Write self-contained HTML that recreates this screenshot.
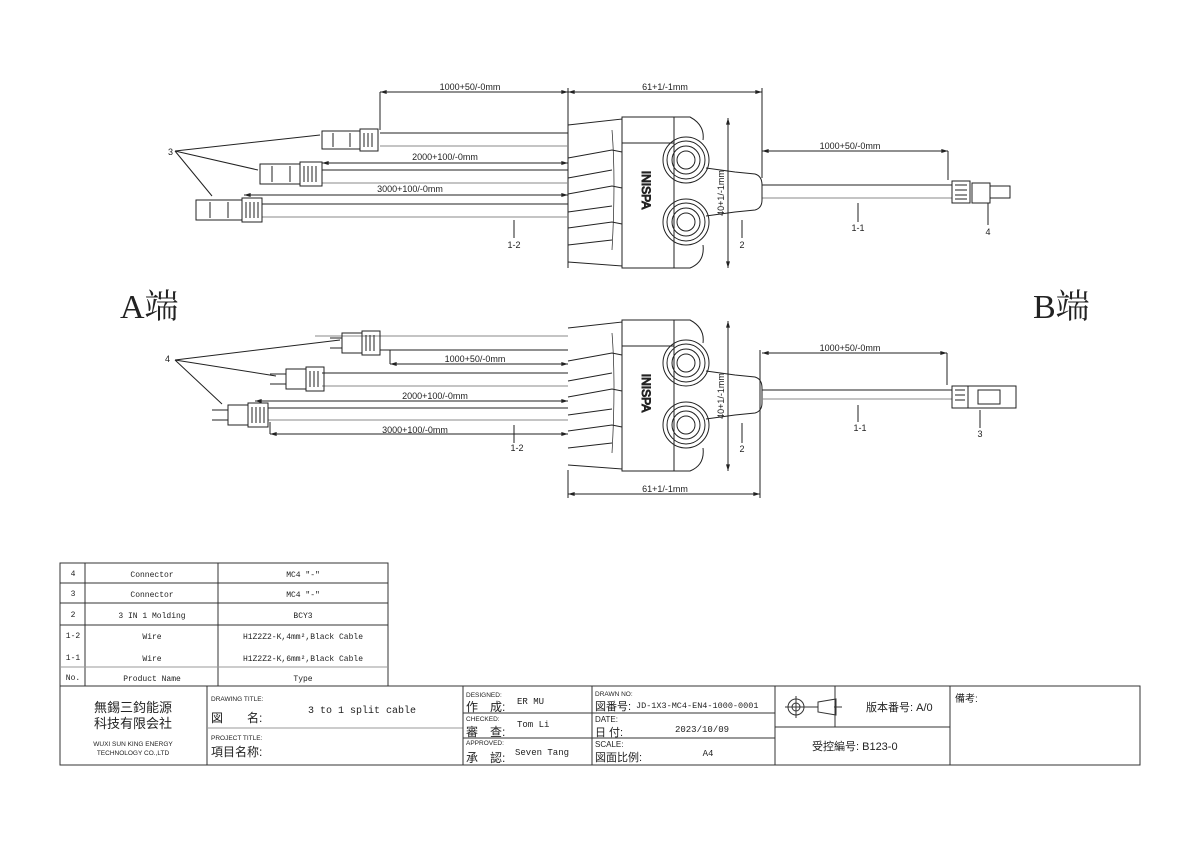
<!DOCTYPE html>
<html><head><meta charset="utf-8"><style>
html,body{margin:0;padding:0;background:#fff;}
svg{display:block}
text{font-family:"Liberation Sans","Noto Sans CJK SC",sans-serif;fill:#222}
.s{font-family:"Liberation Mono","Noto Sans CJK SC",monospace;}
</style></head><body>
<svg width="1200" height="848" viewBox="0 0 1200 848" xmlns="http://www.w3.org/2000/svg">
<defs>
<marker id="a" viewBox="0 0 10 6" refX="10" refY="3" markerWidth="8" markerHeight="4" orient="auto-start-reverse"><path d="M0,0 L10,3 L0,6 z" fill="#222"/></marker>
<g id="hub" fill="none" stroke="#222" stroke-width="1">
  <!-- fan left part -->
  <path d="M568,125 L622,119 L622,266 L568,262"/>
  <path d="M568,158 L612,150 L622,152 M568,178 L612,170 M568,194 L612,186 L622,188 M568,212 L612,206 M568,228 L612,222 L622,224 M568,245 L612,240"/>
  <path d="M612,130 Q616,180 612,250" stroke-width="0.7"/>
  <!-- body -->
  <rect x="622" y="117" width="52" height="151"/>
  <path d="M622,143 L674,143"/>
  <path d="M674,117 L690,117 Q705,125 703,140 M674,268 L690,268 Q705,262 703,245"/>
  <circle cx="686" cy="160" r="23"/><circle cx="686" cy="160" r="19"/><circle cx="686" cy="160" r="14"/><circle cx="686" cy="160" r="9"/>
  <circle cx="686" cy="222" r="23"/><circle cx="686" cy="222" r="19"/><circle cx="686" cy="222" r="14"/><circle cx="686" cy="222" r="9"/>
  <path d="M706,168 L735,172 L755,174 Q762,176 762,185 L762,200 Q762,208 755,210 L735,212 L706,216"/>
  <text x="0" y="0" transform="translate(642,190) rotate(90)" font-size="12" text-anchor="middle" style="fill:#222">INISPA</text>
</g>
</defs>

<!-- ================= TOP DIAGRAM ================= -->
<g stroke="#222" stroke-width="1" fill="none">
  <!-- dims -->
  <line x1="380" y1="92" x2="568" y2="92" marker-start="url(#a)" marker-end="url(#a)"/>
  <line x1="568" y1="92" x2="762" y2="92" marker-start="url(#a)" marker-end="url(#a)"/>
  <line x1="380" y1="92" x2="380" y2="130"/>
  <line x1="568" y1="88" x2="568" y2="268"/>
  <line x1="762" y1="88" x2="762" y2="178"/>
  <line x1="322" y1="163" x2="568" y2="163" marker-start="url(#a)" marker-end="url(#a)"/>
  <line x1="244" y1="195" x2="568" y2="195" marker-start="url(#a)" marker-end="url(#a)"/>
  <line x1="762" y1="151" x2="948" y2="151" marker-start="url(#a)" marker-end="url(#a)"/>
  <line x1="948" y1="151" x2="948" y2="180"/>
  <line x1="728" y1="118" x2="728" y2="268" marker-start="url(#a)" marker-end="url(#a)"/>
  <!-- cables -->
  <line x1="380" y1="133" x2="568" y2="133"/><line x1="380" y1="146" x2="568" y2="146" stroke="#888"/>
  <line x1="322" y1="170" x2="568" y2="170"/><line x1="322" y1="183" x2="568" y2="183" stroke="#888"/>
  <line x1="262" y1="204" x2="568" y2="204"/><line x1="262" y1="217" x2="568" y2="217" stroke="#888"/>
  <line x1="762" y1="185" x2="952" y2="185"/><line x1="762" y1="198" x2="952" y2="198" stroke="#888"/>
  <!-- connectors -->
  <rect x="322" y="131" width="38" height="18"/><rect x="360" y="129" width="18" height="22"/>
  <path d="M364,133v14M368,133v14M372,133v14M333,133v14M350,133v14"/>
  <rect x="260" y="164" width="40" height="20"/><rect x="300" y="162" width="22" height="24"/>
  <path d="M304,166v16M308,166v16M312,166v16M316,166v16M272,166v16M290,166v16"/>
  <rect x="196" y="200" width="46" height="20"/><rect x="242" y="198" width="20" height="24"/>
  <path d="M246,202v16M250,202v16M254,202v16M258,202v16M210,202v16M228,202v16"/>
  <rect x="952" y="181" width="18" height="22"/><path d="M955,185h12M955,190h12M955,195h12M955,199h12"/>
  <rect x="972" y="183" width="18" height="20"/><rect x="990" y="186" width="20" height="12"/>
  <!-- leaders -->
  <path d="M175,151 L320,135 M175,151 L258,170 M175,151 L212,196"/>
  <line x1="514" y1="220" x2="514" y2="238"/>
  <line x1="858" y1="203" x2="858" y2="222"/>
  <line x1="988" y1="203" x2="988" y2="225"/>
  <line x1="742" y1="220" x2="742" y2="238"/>
</g>
<use href="#hub"/>
<g font-size="9">
  <text x="470" y="90" text-anchor="middle">1000+50/-0mm</text>
  <text x="665" y="90" text-anchor="middle">61+1/-1mm</text>
  <text x="445" y="160" text-anchor="middle">2000+100/-0mm</text>
  <text x="410" y="192" text-anchor="middle">3000+100/-0mm</text>
  <text x="850" y="149" text-anchor="middle">1000+50/-0mm</text>
  <text transform="translate(724,193) rotate(-90)" text-anchor="middle">40+1/-1mm</text>
  <text x="168" y="155">3</text>
  <text x="514" y="248" text-anchor="middle">1-2</text>
  <text x="858" y="231" text-anchor="middle">1-1</text>
  <text x="988" y="235" text-anchor="middle">4</text>
  <text x="742" y="248" text-anchor="middle">2</text>
</g>

<!-- A/B labels -->
<text x="120" y="318" font-size="34" style="font-family:'Liberation Serif','Noto Serif CJK SC',serif">A端</text>
<text x="1033" y="318" font-size="34" style="font-family:'Liberation Serif','Noto Serif CJK SC',serif">B端</text>

<!-- ================= BOTTOM DIAGRAM ================= -->
<use href="#hub" transform="translate(0,203)"/>
<g stroke="#222" stroke-width="1" fill="none">
  <line x1="568" y1="470" x2="568" y2="498"/>
  <line x1="760" y1="350" x2="760" y2="498"/>
  <line x1="568" y1="494" x2="760" y2="494" marker-start="url(#a)" marker-end="url(#a)"/>
  <line x1="728" y1="321" x2="728" y2="471" marker-start="url(#a)" marker-end="url(#a)"/>
  <line x1="390" y1="364" x2="568" y2="364" marker-start="url(#a)" marker-end="url(#a)"/>
  <line x1="390" y1="350" x2="390" y2="364"/>
  <line x1="255" y1="401" x2="568" y2="401" marker-start="url(#a)" marker-end="url(#a)"/>
  <line x1="270" y1="434" x2="568" y2="434" marker-start="url(#a)" marker-end="url(#a)"/>
  <line x1="270" y1="422" x2="270" y2="434"/>
  <line x1="762" y1="353" x2="947" y2="353" marker-start="url(#a)" marker-end="url(#a)"/>
  <line x1="947" y1="353" x2="947" y2="385"/>
  <!-- cables -->
  <line x1="315" y1="336" x2="568" y2="336" stroke="#888"/><line x1="380" y1="350" x2="568" y2="350"/>
  <line x1="322" y1="373" x2="568" y2="373"/><line x1="322" y1="386" x2="568" y2="386" stroke="#888"/>
  <line x1="268" y1="408" x2="568" y2="408"/><line x1="268" y1="420" x2="568" y2="420" stroke="#888"/>
  <line x1="762" y1="390" x2="952" y2="390"/><line x1="762" y1="399" x2="952" y2="399" stroke="#888"/>
  <!-- connectors -->
  <path d="M330,338h12v10h-12"/><rect x="342" y="333" width="20" height="20"/><rect x="362" y="331" width="18" height="24"/>
  <path d="M366,335v16M370,335v16M374,335v16"/>
  <path d="M270,374h16v10h-16"/><rect x="286" y="369" width="20" height="20"/><rect x="306" y="367" width="18" height="24"/>
  <path d="M310,371v16M314,371v16M318,371v16"/>
  <path d="M212,410h16v10h-16"/><rect x="228" y="405" width="20" height="20"/><rect x="248" y="403" width="20" height="24"/>
  <path d="M252,407v16M256,407v16M260,407v16M264,407v16"/>
  <rect x="952" y="386" width="16" height="22"/><path d="M955,390h10M955,395h10M955,400h10"/>
  <rect x="968" y="386" width="48" height="22"/><path d="M978,390h22v14h-22z"/>
  <!-- leaders -->
  <path d="M175,360 L340,340 M175,360 L276,376 M175,360 L222,404"/>
  <line x1="514" y1="425" x2="514" y2="443"/>
  <line x1="858" y1="405" x2="858" y2="422"/>
  <line x1="980" y1="410" x2="980" y2="428"/>
  <line x1="742" y1="423" x2="742" y2="443"/>
</g>
<g font-size="9">
  <text x="475" y="362" text-anchor="middle">1000+50/-0mm</text>
  <text x="435" y="399" text-anchor="middle">2000+100/-0mm</text>
  <text x="415" y="433" text-anchor="middle">3000+100/-0mm</text>
  <text x="850" y="351" text-anchor="middle">1000+50/-0mm</text>
  <text x="665" y="492" text-anchor="middle">61+1/-1mm</text>
  <text transform="translate(724,396) rotate(-90)" text-anchor="middle">40+1/-1mm</text>
  <text x="165" y="362">4</text>
  <text x="517" y="451" text-anchor="middle">1-2</text>
  <text x="860" y="431" text-anchor="middle">1-1</text>
  <text x="980" y="437" text-anchor="middle">3</text>
  <text x="742" y="452" text-anchor="middle">2</text>
</g>

<!-- ================= PARTS TABLE ================= -->
<g stroke="#333" stroke-width="1" fill="none">
  <rect x="60" y="563" width="328" height="123"/>
  <line x1="85" y1="563" x2="85" y2="686"/><line x1="218" y1="563" x2="218" y2="686"/>
  <line x1="60" y1="583" x2="388" y2="583"/><line x1="60" y1="603" x2="388" y2="603"/>
  <line x1="60" y1="625" x2="388" y2="625"/>
  <line x1="60" y1="667" x2="388" y2="667" stroke="#999"/>
</g>
<g font-size="8" class="s" text-anchor="middle">
  <text class="s" x="73" y="576">4</text><text class="s" x="152" y="577">Connector</text><text class="s" x="303" y="577">MC4 "-"</text>
  <text class="s" x="73" y="596">3</text><text class="s" x="152" y="597">Connector</text><text class="s" x="303" y="597">MC4 "-"</text>
  <text class="s" x="73" y="617">2</text><text class="s" x="152" y="618">3 IN 1 Molding</text><text class="s" x="303" y="618">BCY3</text>
  <text class="s" x="73" y="638">1-2</text><text class="s" x="152" y="639">Wire</text><text class="s" x="303" y="639">H1Z2Z2-K,4mm²,Black Cable</text>
  <text class="s" x="73" y="660">1-1</text><text class="s" x="152" y="661">Wire</text><text class="s" x="303" y="661">H1Z2Z2-K,6mm²,Black Cable</text>
  <text class="s" x="73" y="680">No.</text><text class="s" x="152" y="681">Product Name</text><text class="s" x="303" y="681">Type</text>
</g>

<!-- ================= TITLE BLOCK ================= -->
<g stroke="#333" stroke-width="1" fill="none">
  <rect x="60" y="686" width="1080" height="79"/>
  <line x1="207" y1="686" x2="207" y2="765"/>
  <line x1="207" y1="728" x2="463" y2="728" stroke="#999"/>
  <line x1="463" y1="686" x2="463" y2="765"/>
  <line x1="463" y1="713" x2="592" y2="713"/><line x1="463" y1="738" x2="592" y2="738"/>
  <line x1="592" y1="686" x2="592" y2="765"/>
  <line x1="592" y1="713" x2="775" y2="713"/><line x1="592" y1="738" x2="775" y2="738"/>
  <line x1="775" y1="686" x2="775" y2="765"/>
  <line x1="775" y1="727" x2="950" y2="727"/>
  <line x1="835" y1="686" x2="835" y2="727"/>
  <line x1="950" y1="686" x2="950" y2="765"/>
  <circle cx="796" cy="707" r="8"/><circle cx="796" cy="707" r="4"/>
  <path d="M785,707h22M796,696v22M806,707h12M818,702l18,-3v16l-18,-3z M834,707h8"/>
</g>
<g style="font-family:'Liberation Sans','Noto Sans CJK SC',sans-serif">
  <text x="133" y="712" font-size="13" text-anchor="middle">無錫三鈞能源</text>
  <text x="133" y="728" font-size="13" text-anchor="middle">科技有限会社</text>
  <text x="133" y="746" font-size="6.5" text-anchor="middle">WUXI SUN KING ENERGY</text>
  <text x="133" y="755" font-size="6.5" text-anchor="middle">TECHNOLOGY CO.,LTD</text>
  <text x="211" y="701" font-size="6.5">DRAWING TITLE:</text>
  <text x="211" y="722" font-size="12">図　　名:</text>
  <text class="s" x="362" y="713" font-size="10" text-anchor="middle">3 to 1 split cable</text>
  <text x="211" y="740" font-size="6.5">PROJECT TITLE:</text>
  <text x="211" y="756" font-size="12">項目名称:</text>
  <text x="466" y="697" font-size="6.5">DESIGNED:</text>
  <text x="466" y="711" font-size="12">作　成:</text>
  <text class="s" x="517" y="704" font-size="9">ER MU</text>
  <text x="466" y="721" font-size="6.5">CHECKED:</text>
  <text x="466" y="736" font-size="12">審　查:</text>
  <text class="s" x="517" y="727" font-size="9">Tom Li</text>
  <text x="466" y="745" font-size="6.5">APPROVED:</text>
  <text x="466" y="762" font-size="12">承　認:</text>
  <text class="s" x="515" y="755" font-size="9">Seven Tang</text>
  <text x="595" y="696" font-size="6.5">DRAWN NO:</text>
  <text x="595" y="710" font-size="11">図番号:</text>
  <text class="s" x="636" y="708" font-size="8.5">JD-1X3-MC4-EN4-1000-0001</text>
  <text x="595" y="722" font-size="8">DATE:</text>
  <text x="595" y="736" font-size="11">日 付:</text>
  <text class="s" x="702" y="732" font-size="9" text-anchor="middle">2023/10/09</text>
  <text x="595" y="747" font-size="8">SCALE:</text>
  <text x="595" y="761" font-size="11">図面比例:</text>
  <text class="s" x="708" y="756" font-size="9" text-anchor="middle">A4</text>
  <text x="866" y="711" font-size="11">版本番号: A/0</text>
  <text x="812" y="750" font-size="11">受控編号: B123-0</text>
  <text x="955" y="702" font-size="10">備考:</text>
</g>
</svg>
</body></html>
